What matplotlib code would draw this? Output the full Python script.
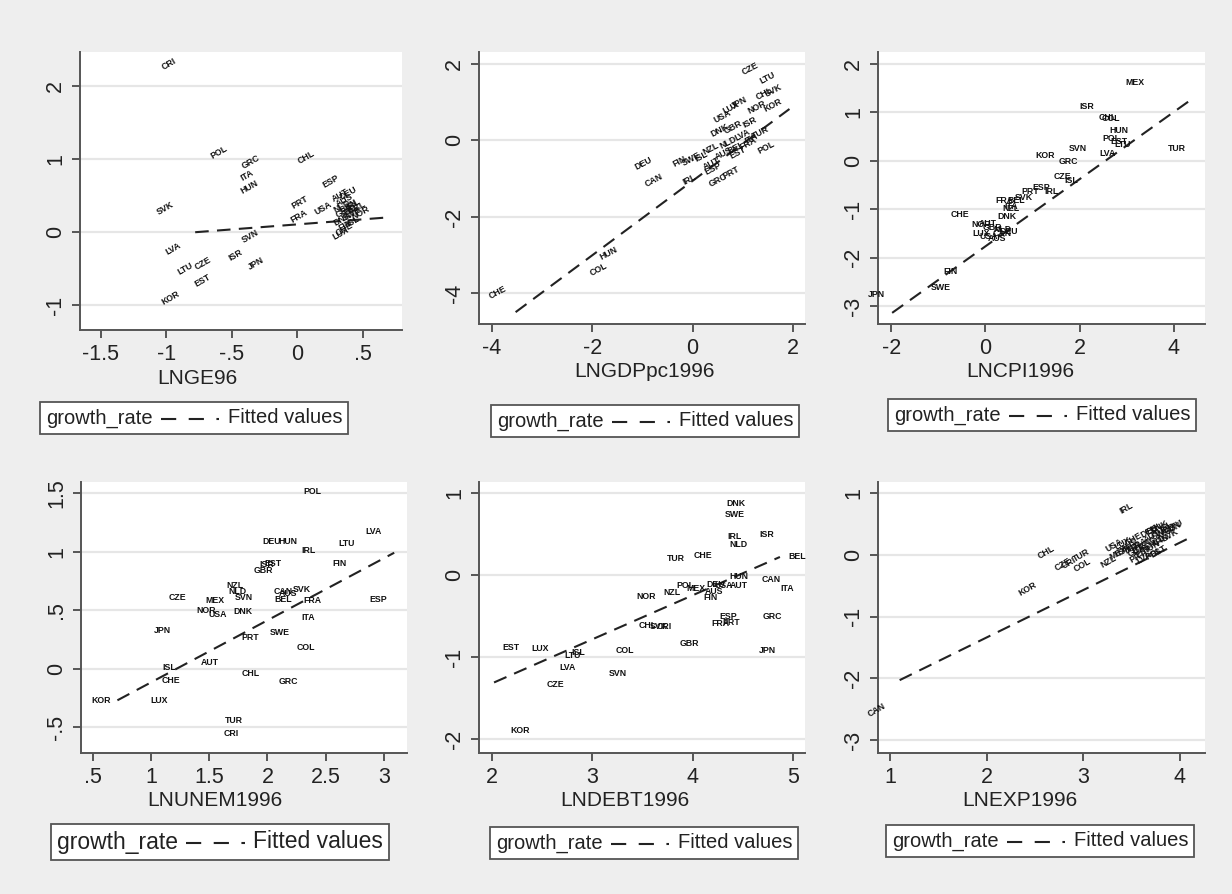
import matplotlib
matplotlib.use("Agg")
import matplotlib.pyplot as plt
from matplotlib.lines import Line2D
from matplotlib.offsetbox import AnchoredOffsetbox, TextArea, DrawingArea, HPacker

plt.rcParams['font.family'] = ['Liberation Sans', 'DejaVu Sans']

W, H = 1232, 894

# ---- LNGE96 ----
ge_codes = ['CRI', 'POL', 'GRC', 'ITA', 'HUN', 'CHL', 'ESP', 'SVK', 'PRT', 'FRA', 'USA', 'SVN',
            'LVA', 'LTU', 'CZE', 'ISR', 'JPN', 'EST', 'KOR', 'AUT', 'DEU', 'AUS', 'NLD', 'CAN',
            'BEL', 'GBR', 'IRL', 'NZL', 'DNK', 'SWE', 'NOR', 'FIN', 'CHE', 'LUX', 'ISL']
ge_x = [-1.03, -0.66, -0.42, -0.43, -0.43, 0.01, 0.20, -1.07, -0.04, -0.05, 0.14, -0.42,
        -1.00, -0.91, -0.78, -0.52, -0.37, -0.78, -1.03, 0.27, 0.33, 0.30, 0.28, 0.33,
        0.36, 0.30, 0.38, 0.40, 0.28, 0.35, 0.42, 0.32, 0.30, 0.27, 0.38]
ge_y = [2.25, 1.04, 0.89, 0.73, 0.55, 0.97, 0.63, 0.26, 0.35, 0.16, 0.26, -0.12,
        -0.28, -0.56, -0.49, -0.37, -0.49, -0.72, -0.97, 0.45, 0.47, 0.38, 0.30, 0.30,
        0.25, 0.22, 0.33, 0.28, 0.12, 0.18, 0.20, 0.05, -0.02, -0.08, 0.10]
ge_fit_x = [-0.78, 0.67]
ge_fit_y = [0.00, 0.20]

# ---- LNGDPpc1996 ----
gdp_codes = ['CHE', 'COL', 'HUN', 'DEU', 'CAN', 'FIN', 'SWE', 'NZL', 'NLD', 'IRL', 'AUT', 'ESP',
             'PRT', 'GRC', 'EST', 'POL', 'ISR', 'DNK', 'GBR', 'USA', 'LUX', 'JPN', 'NOR', 'CHL',
             'SVK', 'KOR', 'LTU', 'CZE', 'BEL', 'FRA', 'ITA', 'LVA', 'AUS', 'ISL', 'TUR']
gdp_x = [-4.06, -2.04, -1.84, -1.15, -0.95, -0.38, -0.20, 0.21, 0.54, -0.19, 0.21, 0.25,
         0.61, 0.34, 0.74, 1.30, 1.00, 0.36, 0.63, 0.44, 0.60, 0.78, 1.10, 1.28,
         1.45, 1.42, 1.34, 1.00, 0.70, 0.95, 1.05, 0.85, 0.45, 0.05, 1.20]
gdp_y = [-4.09, -3.50, -3.07, -0.72, -1.16, -0.63, -0.60, -0.33, -0.16, -1.11, -0.72, -0.85,
         -0.94, -1.16, -0.42, -0.29, 0.37, 0.15, 0.23, 0.50, 0.75, 0.88, 0.75, 1.10,
         1.18, 0.80, 1.54, 1.76, -0.30, -0.20, -0.05, 0.05, -0.45, -0.50, 0.10]
gdp_fit_x = [-3.53, 1.93]
gdp_fit_y = [-4.49, 0.82]

# ---- LNCPI1996 ----
cpi_codes = ['MEX', 'ISR', 'CHL', 'COL', 'HUN', 'POL', 'EST', 'LTU', 'SVN', 'TUR', 'LVA', 'KOR',
             'GRC', 'CZE', 'ISL', 'IRL', 'ESP', 'PRT', 'FRA', 'BEL', 'NZL', 'DNK', 'CHE', 'NOR',
             'AUT', 'NLD', 'LUX', 'USA', 'CAN', 'GBR', 'AUS', 'DEU', 'SVK', 'ITA', 'FIN', 'SWE', 'JPN']
cpi_x = [2.98, 1.99, 2.40, 2.47, 2.63, 2.49, 2.66, 2.74, 1.76, 3.88, 2.42, 1.07,
         1.55, 1.45, 1.67, 1.25, 1.00, 0.76, 0.21, 0.47, 0.37, 0.26, -0.74, -0.30,
         -0.15, 0.17, -0.28, -0.12, 0.15, -0.05, 0.05, 0.30, 0.62, 0.40, -0.90, -1.15, -2.49]
cpi_y = [1.61, 1.12, 0.90, 0.88, 0.63, 0.46, 0.40, 0.34, 0.26, 0.26, 0.15, 0.12,
         -0.02, -0.32, -0.40, -0.64, -0.54, -0.64, -0.81, -0.81, -0.99, -1.14, -1.10, -1.32,
         -1.30, -1.42, -1.50, -1.57, -1.50, -1.38, -1.60, -1.45, -0.75, -0.95, -2.28, -2.61, -2.76]
cpi_fit_x = [-1.98, 4.40]
cpi_fit_y = [-3.14, 1.29]

# ---- LNUNEM1996 ----
unem_codes = ['POL', 'LVA', 'DEU', 'HUN', 'LTU', 'IRL', 'FIN', 'ISR', 'EST', 'GBR', 'NZL', 'NLD',
              'SVN', 'CAN', 'AUS', 'SVK', 'BEL', 'FRA', 'ESP', 'CZE', 'MEX', 'NOR', 'USA', 'DNK',
              'ITA', 'JPN', 'PRT', 'SWE', 'COL', 'AUT', 'ISL', 'CHE', 'CHL', 'GRC', 'KOR', 'LUX',
              'TUR', 'CRI']
unem_x = [2.31, 2.84, 1.96, 2.09, 2.61, 2.29, 2.56, 1.93, 1.97, 1.88, 1.65, 1.66,
          1.72, 2.05, 2.10, 2.22, 2.06, 2.31, 2.88, 1.15, 1.47, 1.39, 1.49, 1.71,
          2.29, 1.02, 1.78, 2.02, 2.25, 1.43, 1.10, 1.09, 1.78, 2.10, 0.49, 0.99,
          1.63, 1.62]
unem_y = [1.51, 1.17, 1.09, 1.09, 1.07, 1.01, 0.90, 0.89, 0.90, 0.84, 0.71, 0.66,
          0.61, 0.66, 0.64, 0.68, 0.59, 0.58, 0.59, 0.61, 0.58, 0.50, 0.46, 0.49,
          0.44, 0.33, 0.27, 0.31, 0.18, 0.05, 0.01, -0.10, -0.04, -0.11, -0.27, -0.27,
          -0.44, -0.55]
unem_fit_x = [0.71, 3.09]
unem_fit_y = [-0.27, 0.99]

# ---- LNDEBT1996 ----
debt_codes = ['DNK', 'SWE', 'ISR', 'IRL', 'NLD', 'TUR', 'CHE', 'BEL', 'HUN', 'CAN', 'ITA', 'DEU',
              'USA', 'AUT', 'POL', 'MEX', 'NZL', 'FIN', 'AUS', 'NOR', 'CHL', 'SVK', 'CRI', 'ESP',
              'FRA', 'PRT', 'GRC', 'GBR', 'EST', 'LUX', 'LTU', 'ISL', 'COL', 'JPN', 'LVA', 'SVN',
              'CZE', 'KOR']
debt_x = [4.34, 4.32, 4.67, 4.35, 4.37, 3.74, 4.01, 4.95, 4.37, 4.69, 4.87, 4.14,
          4.22, 4.37, 3.84, 3.94, 3.71, 4.11, 4.12, 3.44, 3.46, 3.57, 3.64, 4.27,
          4.19, 4.30, 4.70, 3.87, 2.10, 2.39, 2.72, 2.79, 3.23, 4.66, 2.67, 3.16,
          2.54, 2.18]
debt_y = [0.87, 0.74, 0.50, 0.47, 0.37, 0.20, 0.24, 0.23, -0.02, -0.05, -0.17, -0.12,
          -0.13, -0.13, -0.13, -0.17, -0.21, -0.27, -0.20, -0.26, -0.62, -0.63, -0.63, -0.50,
          -0.59, -0.58, -0.51, -0.83, -0.88, -0.89, -0.98, -0.94, -0.92, -0.92, -1.13, -1.20,
          -1.33, -1.89]
debt_fit_x = [2.02, 4.87]
debt_fit_y = [-1.31, 0.22]

# ---- LNEXP1996 ----
exp_codes = ['IRL', 'CHL', 'CZE', 'CRI', 'TUR', 'COL', 'KOR', 'CAN', 'USA', 'NZL', 'MEX', 'LUX',
             'ISR', 'AUS', 'JPN', 'GBR', 'FRA', 'ITA', 'ESP', 'PRT', 'GRC', 'DEU', 'AUT', 'BEL',
             'NLD', 'DNK', 'SWE', 'FIN', 'NOR', 'ISL', 'HUN', 'POL', 'SVK', 'SVN', 'EST', 'LTU',
             'LVA', 'CHE']
exp_x = [3.38, 2.54, 2.71, 2.78, 2.90, 2.91, 2.34, 0.78, 3.24, 3.19, 3.28, 3.33,
         3.36, 3.40, 3.44, 3.47, 3.50, 3.52, 3.55, 3.48, 3.58, 3.60, 3.63, 3.66,
         3.68, 3.70, 3.72, 3.75, 3.78, 3.80, 3.62, 3.65, 3.82, 3.85, 3.70, 3.88,
         3.56, 3.44]
exp_y = [0.70, -0.04, -0.22, -0.20, -0.08, -0.24, -0.63, -2.59, 0.08, -0.17, -0.05, 0.12,
         0.02, 0.08, 0.05, 0.00, 0.10, 0.04, -0.02, -0.10, 0.12, 0.30, 0.22, 0.35,
         0.15, 0.38, 0.28, 0.20, 0.32, 0.40, 0.05, -0.05, 0.25, 0.35, -0.02, 0.40,
         -0.12, 0.18]
exp_fit_x = [1.10, 4.12]
exp_fit_y = [-2.03, 0.29]

panels = [
    dict(codes=ge_codes, x=ge_x, y=ge_y, fx=ge_fit_x, fy=ge_fit_y, name='LNGE96',
         box=(80, 52, 402, 330), xlim=(-1.66, 0.80), ylim=(-1.34, 2.47),
         xt=[-1.5, -1, -0.5, 0, 0.5], xtl=['-1.5', '-1', '-.5', '0', '.5'],
         yt=[-1, 0, 1, 2], ytl=['-1', '0', '1', '2'], rot=30, lab=(197, 379),
         key=(194, 418), ks=14.5),
    dict(codes=gdp_codes, x=gdp_x, y=gdp_y, fx=gdp_fit_x, fy=gdp_fit_y, name='LNGDPpc1996',
         box=(479, 52, 805, 324), xlim=(-4.26, 2.24), ylim=(-4.8, 2.31),
         xt=[-4, -2, 0, 2], xtl=['-4', '-2', '0', '2'],
         yt=[-4, -2, 0, 2], ytl=['-4', '-2', '0', '2'], rot=28, lab=(645, 372),
         key=(645, 421), ks=14.5),
    dict(codes=cpi_codes, x=cpi_x, y=cpi_y, fx=cpi_fit_x, fy=cpi_fit_y, name='LNCPI1996',
         box=(878, 52, 1205, 324), xlim=(-2.28, 4.66), ylim=(-3.37, 2.25),
         xt=[-2, 0, 2, 4], xtl=['-2', '0', '2', '4'],
         yt=[-3, -2, -1, 0, 1, 2], ytl=['-3', '-2', '-1', '0', '1', '2'], rot=0,
         lab=(1020, 372), key=(1042, 415), ks=14.5),
    dict(codes=unem_codes, x=unem_x, y=unem_y, fx=unem_fit_x, fy=unem_fit_y, name='LNUNEM1996',
         box=(81, 482, 407, 753), xlim=(0.397, 3.2), ylim=(-0.72, 1.594),
         xt=[0.5, 1, 1.5, 2, 2.5, 3], xtl=['.5', '1', '1.5', '2', '2.5', '3'],
         yt=[-0.5, 0, 0.5, 1, 1.5], ytl=['-.5', '0', '.5', '1', '1.5'], rot=0,
         lab=(215, 800), key=(220, 842), ks=16.5),
    dict(codes=debt_codes, x=debt_x, y=debt_y, fx=debt_fit_x, fy=debt_fit_y, name='LNDEBT1996',
         box=(479, 482, 805, 753), xlim=(1.87, 5.12), ylim=(-2.17, 1.134),
         xt=[2, 3, 4, 5], xtl=['2', '3', '4', '5'],
         yt=[-2, -1, 0, 1], ytl=['-2', '-1', '0', '1'], rot=0, lab=(625, 800),
         key=(644, 843), ks=14.5),
    dict(codes=exp_codes, x=exp_x, y=exp_y, fx=exp_fit_x, fy=exp_fit_y, name='LNEXP1996',
         box=(878, 482, 1205, 753), xlim=(0.876, 4.26), ylim=(-3.21, 1.18),
         xt=[1, 2, 3, 4], xtl=['1', '2', '3', '4'],
         yt=[-3, -2, -1, 0, 1], ytl=['-3', '-2', '-1', '0', '1'], rot=30,
         lab=(1020, 800), key=(1040, 841), ks=14.5),
]

fig = plt.figure(figsize=(W / 100, H / 100), dpi=100, facecolor='#eeeeee')
dash = (0, (6.5, 4))
key_dash = (0, (7.3, 6))
ink = '#222222'

for p in panels:
    l, t, r, b = p['box']
    ax = fig.add_axes([l / W, 1 - b / H, (r - l) / W, (b - t) / H])
    ax.set_facecolor('white')
    ax.set_xlim(*p['xlim'])
    ax.set_ylim(*p['ylim'])
    for s in ['top', 'right']:
        ax.spines[s].set_visible(False)
    for s in ['left', 'bottom']:
        ax.spines[s].set_color('#555555')
        ax.spines[s].set_linewidth(1.4)
    ax.set_xticks(p['xt'])
    ax.set_xticklabels(p['xtl'])
    ax.set_yticks(p['yt'])
    ax.set_yticklabels(p['ytl'], rotation=90, va='center')
    ax.tick_params(length=6, width=1.4, color='#555555', labelsize=15.5, labelcolor=ink, pad=4)
    ax.yaxis.grid(True, color='#e6e6e6', lw=1.6)
    ax.set_axisbelow(True)

    for code, xv, yv in zip(p['codes'], p['x'], p['y']):
        ax.text(xv, yv, code, fontsize=6.3, fontweight='bold', color='#111111',
                rotation=p['rot'], rotation_mode='anchor', ha='left', va='center')

    ax.plot(p['fx'], p['fy'], color=ink, lw=1.5, ls=dash)

    ax.set_xlabel(p['name'], fontsize=15, color=ink)
    cx, cy = p['lab']
    ax.xaxis.set_label_coords((cx - l) / (r - l), (b - cy) / (b - t))
    ax.xaxis.label.set_va('center')

    # Stata-style key: "growth_rate — — · Fitted values"
    t1 = TextArea('growth_rate', textprops=dict(size=p['ks'], color=ink))
    da = DrawingArea(42, 10, 0, 0)
    da.add_artist(Line2D([0, 42], [4, 4], color=ink, lw=1.5, ls=key_dash))
    t2 = TextArea('Fitted values', textprops=dict(size=p['ks'], color=ink))
    pack = HPacker(children=[t1, da, t2], align='center', pad=0, sep=6)
    kx, ky = p['key']
    key = AnchoredOffsetbox(loc='center', child=pack, pad=0.45, borderpad=0, frameon=True,
                            bbox_to_anchor=(kx / W, 1 - ky / H), bbox_transform=fig.transFigure)
    key.patch.set_boxstyle('square', pad=0)
    key.patch.set_edgecolor('#555555')
    key.patch.set_linewidth(1.3)
    key.patch.set_facecolor('white')
    fig.add_artist(key)

fig.savefig('out.png', dpi=100, facecolor=fig.get_facecolor())
